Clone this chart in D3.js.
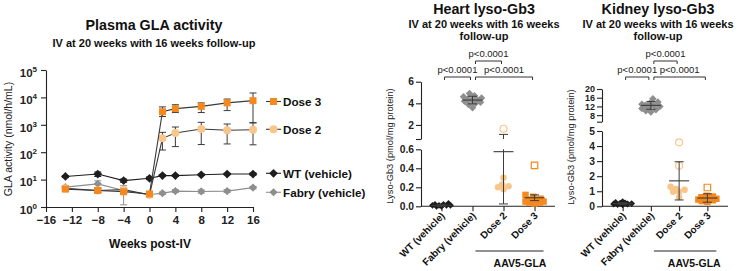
<!DOCTYPE html>
<html><head><meta charset="utf-8">
<script src="https://cdn.jsdelivr.net/npm/d3@7"></script>
<style>
body{margin:0;background:#fff}
svg{display:block}
text{font-family:"Liberation Sans",Arial,Helvetica,sans-serif}
</style>
</head><body>
<svg id="c" width="739" height="271"></svg>
<script>
// ---------------- DATA ----------------
// Plasma GLA activity (nmol/h/mL), log scale
const weeks = [-13, -8, -4, 0, 2, 4, 8, 12, 16];
const dose3Mean = [4.5, 4.0, 3.6, 3.0, 3000, 3900, 4700, 6300, 7600];
const dose3Hi   = [5.5, 4.8, 4.2, 3.5, 4500, 5400, 6300, 8700, 14500];
const dose3Lo   = [3.8, 3.4, 3.1, 2.6, 2000, 2800, 2800, 3300, 1200];
const dose2Mean = [4.8, 4.0, 4.3, 2.8, 320, 500, 700, 630, 660];
const dose2Hi   = [5.8, 4.6, 5.0, 3.2, 530, 830, 1230, 1070, 1170];
const dose2Lo   = [4.0, 3.5, 3.6, 2.4, 120, 160, 190, 200, 186];
const wtMean    = [13, 16, 9.2, 11.2, 14, 14, 15, 16, 16];
const wtHi      = [14, 19, 10.5, 12.5, 15, 15, 16, 17, 17.5];
const wtLo      = [12, 13, 8, 10, 13, 13, 14, 15, 14.5];
const fabryMean = [5.3, 7.0, 4.0, 2.8, 3.2, 3.8, 3.7, 3.8, 5.1];
const fabryHi   = [6.0, 9.0, 6.0, 3.3, 3.5, 4.3, 4.2, 4.3, 5.6];
const fabryLo   = [4.5, 5.0, 1.2, 2.4, 2.9, 3.4, 3.2, 3.4, 4.6];
const seriesNames = ["Dose 3", "Dose 2", "WT (vehicle)", "Fabry (vehicle)"];
const xTicks = [-16, -12, -8, -4, 0, 4, 8, 12, 16];
const yTicksLog = [1, 10, 100, 1000, 10000, 100000];

// Lyso-Gb3 panels
const groups = ["WT (vehicle)", "Fabry (vehicle)", "Dose 2", "Dose 3"];
const heartWT    = [0.02, 0.01, 0.03, 0.01, 0.0, 0.01, 0.02, 0.01, 0.0];
const heartFabry = [4.9, 4.7, 4.6, 4.5, 4.4, 4.3, 4.3, 4.2, 4.1, 4.0, 3.9, 3.6];
const heartDose2 = [0.18, 0.23, 0.30, 0.20, 0.21];
const heartDose3 = [0.12, 0.10, 0.08, 0.06, 0.05, 0.05, 0.04, 0.04, 0.03, 0.05, 0.07];
const heartDose2Open = [1.65];
const heartDose3Open = [0.43];
const heartMean = [0.01, 4.3, 0.575, 0.09];
const heartSD   = [0.01, 0.35, 0.55, 0.03];
const heartLowerTicks = [0, 0.2, 0.4, 0.6];
const heartUpperTicks = [0.7, 2, 4, 6];

const kidneyWT    = [0.15, 0.2, 0.1, 0.25, 0.18, 0.12, 0.22, 0.3, 0.15];
const kidneyFabry = [15.5, 14, 13.5, 13, 12.5, 12.5, 12, 11.5, 11, 10.5, 10, 9.5];
const kidneyDose2 = [1.15, 0.6, 0.97, 1.3, 0.97, 1.1];
const kidneyDose3 = [0.7, 0.65, 0.55, 0.5, 0.45, 0.4, 0.35, 0.3, 0.5, 0.6];
const kidneyDose2Open = [4.25, 2.7];
const kidneyDose3Open = [1.25];
const kidneyMean = [0.18, 12.5, 1.69, 0.55];
const kidneySD   = [0.06, 1.8, 1.27, 0.28];
const kidneyLowerTicks = [0, 1, 2, 3, 4, 5];
const kidneyUpperTicks = [5, 8, 12, 16, 20];

const pLabel = "p<0.0001";

// ---------------- STYLE ----------------
const C3 = "#F5891E", C2 = "#F8C68A", CWT = "#1E1E1E", CFAB = "#8E8E8E", AX = "#222", EB = "#3c3c3c";
const svg = d3.select("#c");
svg.append("rect").attr("width", 739).attr("height", 271).attr("fill", "#fff");

function marker(g, shape, x, y, size, fill, stroke, open) {
  let p;
  const r = size / 2;
  if (shape === "square") p = `M${x - r},${y - r}h${size}v${size}h${-size}Z`;
  else if (shape === "diamond") p = `M${x},${y - r * 1.25}L${x + r * 1.25},${y}L${x},${y + r * 1.25}L${x - r * 1.25},${y}Z`;
  else { const q = d3.path(); q.arc(x, y, r, 0, 2 * Math.PI); p = q.toString(); }
  g.append("path").attr("d", p)
    .attr("fill", open ? "none" : fill)
    .attr("stroke", open ? stroke : "none")
    .attr("stroke-width", open ? 1.2 : 0);
}
function styleAxis(g, fs, bold) {
  g.select(".domain").attr("stroke", AX).attr("stroke-width", 1.1);
  g.selectAll(".tick line").attr("stroke", AX).attr("stroke-width", 1.1);
  g.selectAll(".tick text").attr("fill", AX).attr("font-size", fs)
    .attr("font-weight", bold ? "bold" : "normal").attr("font-family", '"Liberation Sans",Arial,sans-serif');
}

// ---------------- PANEL 1 ----------------
const p1 = svg.append("g");
const x1 = d3.scaleLinear().domain([-16, 16]).range([46, 253]);
const y1 = d3.scaleLog().domain([1, 1e5]).range([207, 70]);

p1.append("text").attr("x", 154).attr("y", 29.5).attr("text-anchor", "middle")
  .attr("font-size", 14.3).attr("font-weight", "bold").attr("fill", "#111").text("Plasma GLA activity");
p1.append("text").attr("x", 154).attr("y", 46.5).attr("text-anchor", "middle")
  .attr("font-size", 11).attr("font-weight", "bold").attr("fill", "#111").text("IV at 20 weeks with 16 weeks follow-up");

const gx1 = p1.append("g").attr("transform", "translate(0,207)")
  .call(d3.axisBottom(x1).tickValues(xTicks).tickSize(5).tickSizeOuter(0).tickPadding(4)
    .tickFormat(d => d < 0 ? "\u2212" + Math.abs(d) : d));
styleAxis(gx1, 11.5, true);
const gy1 = p1.append("g").attr("transform", "translate(46,0)")
  .call(d3.axisLeft(y1).tickValues(yTicksLog).tickSize(5).tickSizeOuter(0).tickPadding(4).tickFormat(""));
styleAxis(gy1, 11.5, true);
gy1.selectAll(".tick text").each(function (d) {
  const t = d3.select(this);
  t.text("10");
  t.append("tspan").attr("dy", -5).attr("font-size", 8).text(Math.round(Math.log10(d)));
}).attr("dy", "0.55em");

p1.append("text").attr("transform", "translate(12,139) rotate(-90)").attr("text-anchor", "middle")
  .attr("font-size", 10.5).attr("fill", "#222").text("GLA activity (nmol/h/mL)");
p1.append("text").attr("x", 150).attr("y", 248).attr("text-anchor", "middle")
  .attr("font-size", 12).attr("font-weight", "bold").attr("fill", "#111").text("Weeks post-IV");

const series = [
  { name: seriesNames[3], mean: fabryMean, hi: fabryHi, lo: fabryLo, shape: "diamond", fill: CFAB, line: CFAB, err: CFAB, size: 6.5, ly: 192.3 },
  { name: seriesNames[2], mean: wtMean, hi: wtHi, lo: wtLo, shape: "diamond", fill: CWT, line: CWT, err: CWT, size: 7, ly: 173.3 },
  { name: seriesNames[1], mean: dose2Mean, hi: dose2Hi, lo: dose2Lo, shape: "circle", fill: C2, line: "#3a3a3a", err: "#3a3a3a", size: 8, ly: 129.3 },
  { name: seriesNames[0], mean: dose3Mean, hi: dose3Hi, lo: dose3Lo, shape: "square", fill: C3, line: "#3a3a3a", err: "#3a3a3a", size: 7, ly: 101.5 }
];
const lineGen = d3.line().x(d => x1(d[0])).y(d => y1(d[1]));
series.forEach(s => {
  const g = p1.append("g");
  weeks.forEach((w, i) => {
    const x = x1(w);
    g.append("line").attr("x1", x).attr("x2", x).attr("y1", y1(s.lo[i])).attr("y2", y1(s.hi[i]))
      .attr("stroke", s.err).attr("stroke-width", 1);
    [s.lo[i], s.hi[i]].forEach(v => g.append("line").attr("x1", x - 3.5).attr("x2", x + 3.5)
      .attr("y1", y1(v)).attr("y2", y1(v)).attr("stroke", s.err).attr("stroke-width", 1));
  });
  g.append("path").attr("d", lineGen(weeks.map((w, i) => [w, s.mean[i]])))
    .attr("fill", "none").attr("stroke", s.line).attr("stroke-width", 1.1);
  weeks.forEach((w, i) => marker(g, s.shape, x1(w), y1(s.mean[i]), s.size, s.fill));
  // legend
  const lg = p1.append("g");
  lg.append("line").attr("x1", 266).attr("x2", 281).attr("y1", s.ly).attr("y2", s.ly)
    .attr("stroke", s.line).attr("stroke-width", 1.1);
  marker(lg, s.shape, 273.5, s.ly, s.size, s.fill);
  lg.append("text").attr("x", 283).attr("y", s.ly).attr("dy", "0.36em")
    .attr("font-size", 11.7).attr("font-weight", "bold").attr("fill", "#111").text(s.name);
});

// ---------------- SCATTER PANELS ----------------
// simple beeswarm: nearest-to-centre offset without collision, limited to +-maxW
function swarm(vals, yf, minDist, maxW) {
  const pts = vals.map(v => ({ v, y: yf(v) })).sort((a, b) => b.y - a.y);
  const placed = [];
  const cands = [];
  for (let k = 0; k <= maxW * 4; k++) cands.push((k % 2 === 0 ? 1 : -1) * Math.ceil(k / 2) * 0.5);
  pts.forEach(p => {
    let best = null, bestD = -1;
    for (const off of cands) {
      const d = placed.length ? d3.min(placed, q => Math.hypot(q.dx - off, q.y - p.y)) : Infinity;
      if (d >= minDist) { best = off; break; }
      if (d > bestD) { bestD = d; best = off; }
    }
    p.dx = best;
    placed.push(p);
  });
  return placed;
}

function scatterPanel(cfg) {
  const g = svg.append("g");
  const xs = d3.scalePoint().domain(groups).range([cfg.x0, cfg.x1]).padding(cfg.pad);
  const yLo = d3.scaleLinear().domain(cfg.lowDom).range(cfg.lowRange);
  const yHi = d3.scaleLinear().domain(cfg.upDom).range(cfg.upRange);
  const yf = v => v <= cfg.lowDom[1] ? yLo(v)
    : v >= cfg.upDom[0] ? yHi(v)
    : cfg.lowRange[1] + (v - cfg.lowDom[1]) / (cfg.upDom[0] - cfg.lowDom[1]) * (cfg.upRange[0] - cfg.lowRange[1]);
  const cx = cfg.cx;
  g.append("text").attr("x", cx).attr("y", 14).attr("text-anchor", "middle")
    .attr("font-size", 14.3).attr("font-weight", "bold").attr("fill", "#111").text(cfg.title);
  g.append("text").attr("x", cx).attr("y", 27.5).attr("text-anchor", "middle")
    .attr("font-size", 11).attr("font-weight", "bold").attr("fill", "#111").text("IV at 20 weeks with 16 weeks");
  g.append("text").attr("x", cx).attr("y", 40).attr("text-anchor", "middle")
    .attr("font-size", 11).attr("font-weight", "bold").attr("fill", "#111").text("follow-up");

  // axes
  const gl = g.append("g").attr("transform", `translate(${cfg.x0},0)`)
    .call(d3.axisLeft(yLo).tickValues(cfg.lowTicks).tickSize(5).tickSizeOuter(0).tickPadding(2).tickFormat(cfg.lowFmt));
  styleAxis(gl, 10.3, true);
  const gu = g.append("g").attr("transform", `translate(${cfg.x0},0)`)
    .call(d3.axisLeft(yHi).tickValues(cfg.upTicks).tickSize(5).tickSizeOuter(0).tickPadding(2)
      .tickFormat(d => d === cfg.upDom[0] ? "" : d));
  styleAxis(gu, cfg.upFont, true);
  const gxb = g.append("g").attr("transform", `translate(0,${cfg.lowRange[0]})`)
    .call(d3.axisBottom(xs).tickSize(5).tickSizeOuter(0).tickFormat(""));
  styleAxis(gxb, 10, true);
  gxb.select(".domain").attr("d", `M${cfg.x0},0H${cfg.x1}`);
  groups.forEach(c => {
    g.append("text").attr("transform", `translate(${xs(c) + 4},${cfg.lowRange[0] + 10}) rotate(-45)`)
      .attr("text-anchor", "end").attr("font-size", 10).attr("font-weight", "bold").attr("fill", "#111").text(c);
  });
  g.append("line").attr("x1", xs("Fabry (vehicle)") + 3).attr("x2", xs("Dose 3") + 9)
    .attr("y1", 251).attr("y2", 251).attr("stroke", AX).attr("stroke-width", 1);
  g.append("text").attr("x", (xs("Dose 2") + xs("Dose 3")) / 2 + 1).attr("y", 267).attr("text-anchor", "middle")
    .attr("font-size", 10.5).attr("font-weight", "bold").attr("fill", "#111").text("AAV5-GLA");
  g.append("text").attr("transform", `translate(${cfg.ylx},${cfg.yly}) rotate(-90)`).attr("text-anchor", "middle")
    .attr("font-size", 9.3).attr("fill", "#222").text("Lyso-Gb3 (pmol/mg protein)");

  // brackets
  const br = [["WT (vehicle)", "Fabry (vehicle)", 77], ["Fabry (vehicle)", "Dose 3", 77], ["Fabry (vehicle)", "Dose 2", 61]];
  br.forEach(([a, b, yy]) => {
    const xa = xs(a) + 3, xb = xs(b) - 2;
    g.append("path").attr("d", `M${xa},${yy + 3}V${yy}H${xb}V${yy + 3}`)
      .attr("fill", "none").attr("stroke", "#333").attr("stroke-width", 1);
    g.append("text").attr("x", (xa + xb) / 2).attr("y", yy - 4).attr("text-anchor", "middle")
      .attr("font-size", 9.5).attr("fill", "#222").text(pLabel);
  });

  // points
  const specs = [
    { vals: cfg.wt, shape: "diamond", fill: CWT, size: 5.5 },
    { vals: cfg.fab, shape: "diamond", fill: CFAB, size: 6 },
    { vals: cfg.d2, shape: "circle", fill: C2, size: 6.5 },
    { vals: cfg.d3, shape: "square", fill: C3, size: 6.5 }
  ];
  specs.forEach((s, i) => {
    const x = xs(groups[i]);
    const pts = swarm(s.vals, yf, s.size * 0.85, 9);
    pts.forEach(p => marker(g, s.shape, x + p.dx, p.y, s.size, s.fill));
  });
  cfg.d2open.forEach(v => marker(g, "circle", xs("Dose 2"), yf(v), 7, C2, C2, true));
  cfg.d3open.forEach(v => marker(g, "square", xs("Dose 3"), yf(v), 6.5, C3, C3, true));
  // mean +- SD, error bar clipped to the two axis segments
  const seg = (x, a, b) => {
    [[cfg.lowDom[0], cfg.lowDom[1]], [cfg.upDom[0], cfg.upDom[1]]].forEach(([m0, m1]) => {
      const lo = Math.max(a, m0), hi = Math.min(b, m1);
      if (hi > lo) g.append("line").attr("x1", x).attr("x2", x).attr("y1", yf(hi)).attr("y2", yf(lo))
        .attr("stroke", EB).attr("stroke-width", 1);
    });
  };
  groups.forEach((c, i) => {
    const x = xs(c), m = cfg.mean[i], s = cfg.sd[i];
    const top = m + s, bot = Math.max(0, m - s);
    seg(x, bot, top);
    g.append("line").attr("x1", x - 10).attr("x2", x + 10).attr("y1", yf(m)).attr("y2", yf(m)).attr("stroke", EB).attr("stroke-width", 1.1);
    [top, bot].forEach(v => g.append("line").attr("x1", x - 4.5).attr("x2", x + 4.5).attr("y1", yf(v)).attr("y2", yf(v)).attr("stroke", EB).attr("stroke-width", 1));
  });
}

scatterPanel({
  title: "Heart lyso-Gb3", cx: 484, x0: 421, x1: 555, pad: 0.66,
  lowDom: [0, 0.6], lowRange: [206.3, 149.3], upDom: [0.7, 6], upRange: [139, 81.7],
  lowTicks: heartLowerTicks, upTicks: heartUpperTicks, lowFmt: d3.format(".1f"), upFont: 10.3,
  wt: heartWT, fab: heartFabry, d2: heartDose2, d3: heartDose3,
  d2open: heartDose2Open, d3open: heartDose3Open, mean: heartMean, sd: heartSD,
  ylx: 393, yly: 146
});
scatterPanel({
  title: "Kidney lyso-Gb3", cx: 658, x0: 602, x1: 728, pad: 0.73,
  lowDom: [0, 5], lowRange: [206.3, 131], upDom: [5, 20], upRange: [121.7, 89],
  lowTicks: kidneyLowerTicks, upTicks: kidneyUpperTicks, lowFmt: d3.format("d"), upFont: 9,
  wt: kidneyWT, fab: kidneyFabry, d2: kidneyDose2, d3: kidneyDose3,
  d2open: kidneyDose2Open, d3open: kidneyDose3Open, mean: kidneyMean, sd: kidneySD,
  ylx: 574, yly: 147
});
</script>
</body></html>
